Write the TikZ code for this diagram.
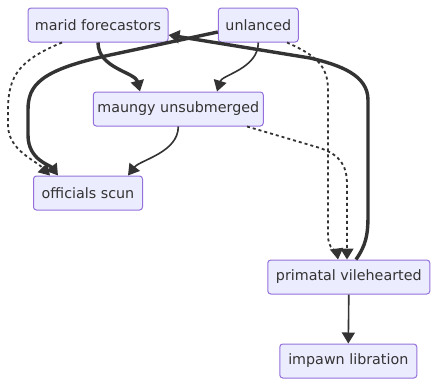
\documentclass[tikz,border=0pt]{standalone}
\usepackage{fontspec}
\setmainfont{DejaVu Sans}
\usetikzlibrary{arrows.meta}
\definecolor{boxfill}{HTML}{ECECFF}
\definecolor{boxline}{HTML}{9370DB}
\definecolor{ink}{HTML}{333333}
\tikzset{
  box/.style={draw=boxline, fill=boxfill, line width=1pt, rounded corners=3pt,
    minimum height=34pt, inner sep=0pt, text=ink,
    font=\fontsize{14.3}{17}\selectfont},
  tip/.style={-{Triangle[length=11pt,width=13pt]}},
  link/.style={draw=ink, line width=1.6pt, tip},
  heavy/.style={draw=ink, line width=3.4pt, tip},
  dots/.style={draw=ink, line width=1.8pt, dash pattern=on 3pt off 3pt, tip},
}
\begin{document}
\begin{tikzpicture}[x=1pt, y=-1pt]
\useasboundingbox (0,0) rectangle (438,386);

\node[box, minimum width=140pt] (marid) at (98,25) {marid forecastors};
\node[box, minimum width=80pt] (unl) at (258.3,25) {unlanced};
\node[box, minimum width=170pt] (maungy) at (178.3,109) {maungy unsubmerged};
\node[box, minimum width=109pt] (off) at (88,193) {officials scun};
\node[box, minimum width=162pt] (prim) at (348.8,277) {primatal vilehearted};
\node[box, minimum width=137pt] (imp) at (348.3,361) {impawn libration};

% marid forecastors -> maungy unsubmerged
\draw[heavy] (marid.south) .. controls +(0,26) and (135,72) .. (maungy.north -| 140,0);
% unlanced -> maungy unsubmerged
\draw[link] (unl.south) .. controls +(0,26) and (222,75) .. (maungy.north -| 217,0);
% marid forecastors -> officials scun (dotted)
\draw[dots] (marid.south -| 62,0) .. controls (20,60) and (8,75) .. (8,110) -- (8,125)
  .. controls (8,150) and (35,160) .. (off.north -| 50,0);
% unlanced -> officials scun (heavy)
\draw[heavy] (unl.west |- 0,32) -- (110,55) .. controls (40,70) and (28,85) .. (28,110)
  -- (28,135) .. controls (28,160) and (50,165) .. (off.north -| 58,0);
% unlanced -> primatal vilehearted (dotted)
\draw[dots] (unl.south -| 287,0) .. controls (315,55) and (328,65) .. (328,90) -- (328,235)
  .. controls (328,250) and (337,252) .. (prim.north -| 338,0);
% maungy unsubmerged -> officials scun
\draw[link] (maungy.south) .. controls +(0,26) and (140,160) .. (off.north -| 128,0);
% maungy unsubmerged -> primatal vilehearted (dotted)
\draw[dots] (maungy.south -| 247,0) -- (320,148) .. controls (340,155) and (347,165) .. (347,185)
  -- (prim.north -| 347,0);
% primatal vilehearted -> marid forecastors (heavy)
\draw[heavy] (prim.north -| 356,0) .. controls (366,245) and (368,235) .. (368,215) -- (368,100)
  .. controls (368,75) and (340,65) .. (310,58) -- (marid.south east |- 0,35);
% primatal vilehearted -> impawn libration
\draw[link] (prim.south) -- (imp.north);
\end{tikzpicture}
\end{document}
